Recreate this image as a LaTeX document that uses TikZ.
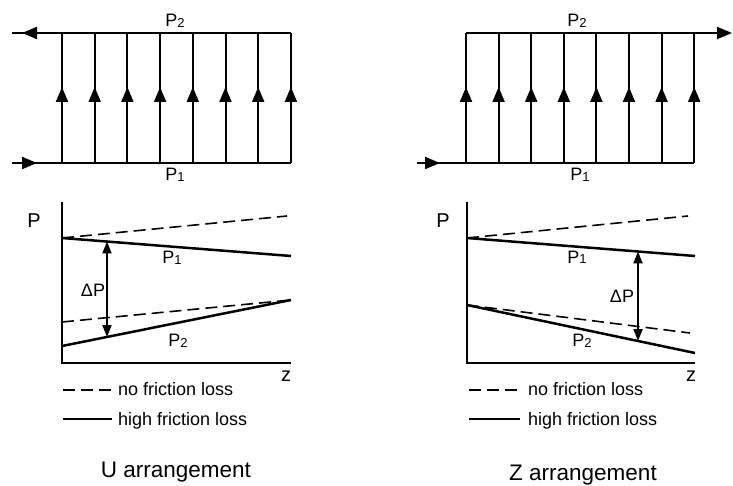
\documentclass[tikz,border=0pt]{standalone}
\usepackage{fontspec}
\setmainfont{Liberation Sans}
\usetikzlibrary{arrows.meta}
\newcommand\Pidx[1]{P\raisebox{-1pt}{\fontsize{13}{13}\selectfont #1}}
\tikzset{
  pipe/.style={line width=2pt},
  flowtip/.style={-{Triangle[length=15pt,width=12pt]}},
  axis/.style={line width=2pt},
  real/.style={line width=2.5pt},
  ideal/.style={line width=1.6pt, dash pattern=on 12pt off 6pt},
  dp/.style={line width=2pt, {Triangle[length=12pt,width=9pt]}-{Triangle[length=12pt,width=9pt]}},
  lbl/.style={inner sep=0pt, anchor=base, font=\fontsize{18}{20}\selectfont},
  big/.style={inner sep=0pt, anchor=base, font=\fontsize{20}{22}\selectfont},
  leg/.style={inner sep=0pt, anchor=base west, font=\fontsize{18}{20}\selectfont},
  caption/.style={inner sep=0pt, anchor=base, font=\fontsize{22.5}{26}\selectfont},
}
\begin{document}
\begin{tikzpicture}[x=1pt, y=-1pt]
\useasboundingbox (0,0) rectangle (733,486);

% ---------- U arrangement: manifolds ----------
\coordinate (uTL) at (12,33);
\coordinate (uTR) at (291,33);
\coordinate (uBL) at (12,163);
\coordinate (uBR) at (291,163);
\draw[pipe] (uTR) -- (uTL);
\draw[pipe] (uBL) -- (uBR);
\draw[pipe, flowtip] (37,33) -- (22,33);
\draw[pipe, flowtip] (20,163) -- (37,163);
\foreach \i in {0,...,7} {
  \pgfmathsetmacro{\xx}{62+32.7*\i}
  \draw[pipe] (\xx,163) -- (\xx,33);
  \draw[pipe, flowtip] (\xx,102) -- (\xx,87);
}
\node[lbl] (uP2) at (175,27) {\Pidx{2}};
\node[lbl] (uP1) at (175,181) {\Pidx{1}};

% ---------- Z arrangement: manifolds ----------
\coordinate (zTL) at (466,33);
\coordinate (zTR) at (732,33);
\coordinate (zBL) at (417,163);
\coordinate (zBR) at (694,163);
\draw[pipe, flowtip] (zTL) -- (zTR);
\draw[pipe] (zBL) -- (zBR);
\draw[pipe, flowtip] (425,163) -- (440,163);
\foreach \i in {0,...,7} {
  \pgfmathsetmacro{\xx}{466+32.6*\i}
  \draw[pipe] (\xx,163) -- (\xx,33);
  \draw[pipe, flowtip] (\xx,102) -- (\xx,87);
}
\node[lbl] (zP2) at (577,27) {\Pidx{2}};
\node[lbl] (zP1) at (580,181) {\Pidx{1}};

% ---------- U arrangement: pressure profiles ----------
\coordinate (uO) at (62,363);
\draw[axis] (62,202) -- (uO) -- (291,363);
\node[big] (uPax) at (34,228) {P};
\node[big] (uzax) at (286,381) {z};
\draw[ideal] (62,238) -- (287,216);
\draw[real] (62,238) -- (291,256);
\draw[ideal] (62,322) -- (291,300);
\draw[real] (62,346) -- (291,300);
\coordinate (uA) at (107,241.5);
\coordinate (uB) at (107,337);
\draw[dp] (uB) -- (uA);
\node[lbl] (uP1c) at (172,264) {\Pidx{1}};
\node[lbl] (uP2c) at (178,346) {\Pidx{2}};
\node[lbl] (udP) at (93,296) {ΔP};
\draw[ideal] (63,390) -- (112,390);
\node[leg] (un) at (118,395) {no friction loss};
\draw[real, line width=1.6pt] (63,419) -- (112,419);
\node[leg] (uh) at (118,425) {high friction loss};
\node[caption] (ucap) at (176,477) {U arrangement};

% ---------- Z arrangement: pressure profiles ----------
\coordinate (zO) at (467,363);
\draw[axis] (467,202) -- (zO) -- (695,363);
\node[big] (zPax) at (443,228) {P};
\node[big] (zzax) at (691,381) {z};
\draw[ideal] (467,238) -- (688,216);
\draw[real] (467,238) -- (695,256);
\draw[ideal] (467,305) -- (690,333);
\draw[real] (467,305) -- (695,353);
\coordinate (zA) at (638,251.5);
\coordinate (zB) at (638,341);
\draw[dp] (zB) -- (zA);
\node[lbl] (zP1c) at (577,263) {\Pidx{1}};
\node[lbl] (zP2c) at (582,346) {\Pidx{2}};
\node[lbl] (zdP) at (622,302) {ΔP};
\draw[ideal] (469,390) -- (520,390);
\node[leg] (zn) at (528,395) {no friction loss};
\draw[real, line width=1.6pt] (469,419) -- (520,419);
\node[leg] (zh) at (528,425) {high friction loss};
\node[caption] (zcap) at (583,480) {Z arrangement};
\end{tikzpicture}
\end{document}
